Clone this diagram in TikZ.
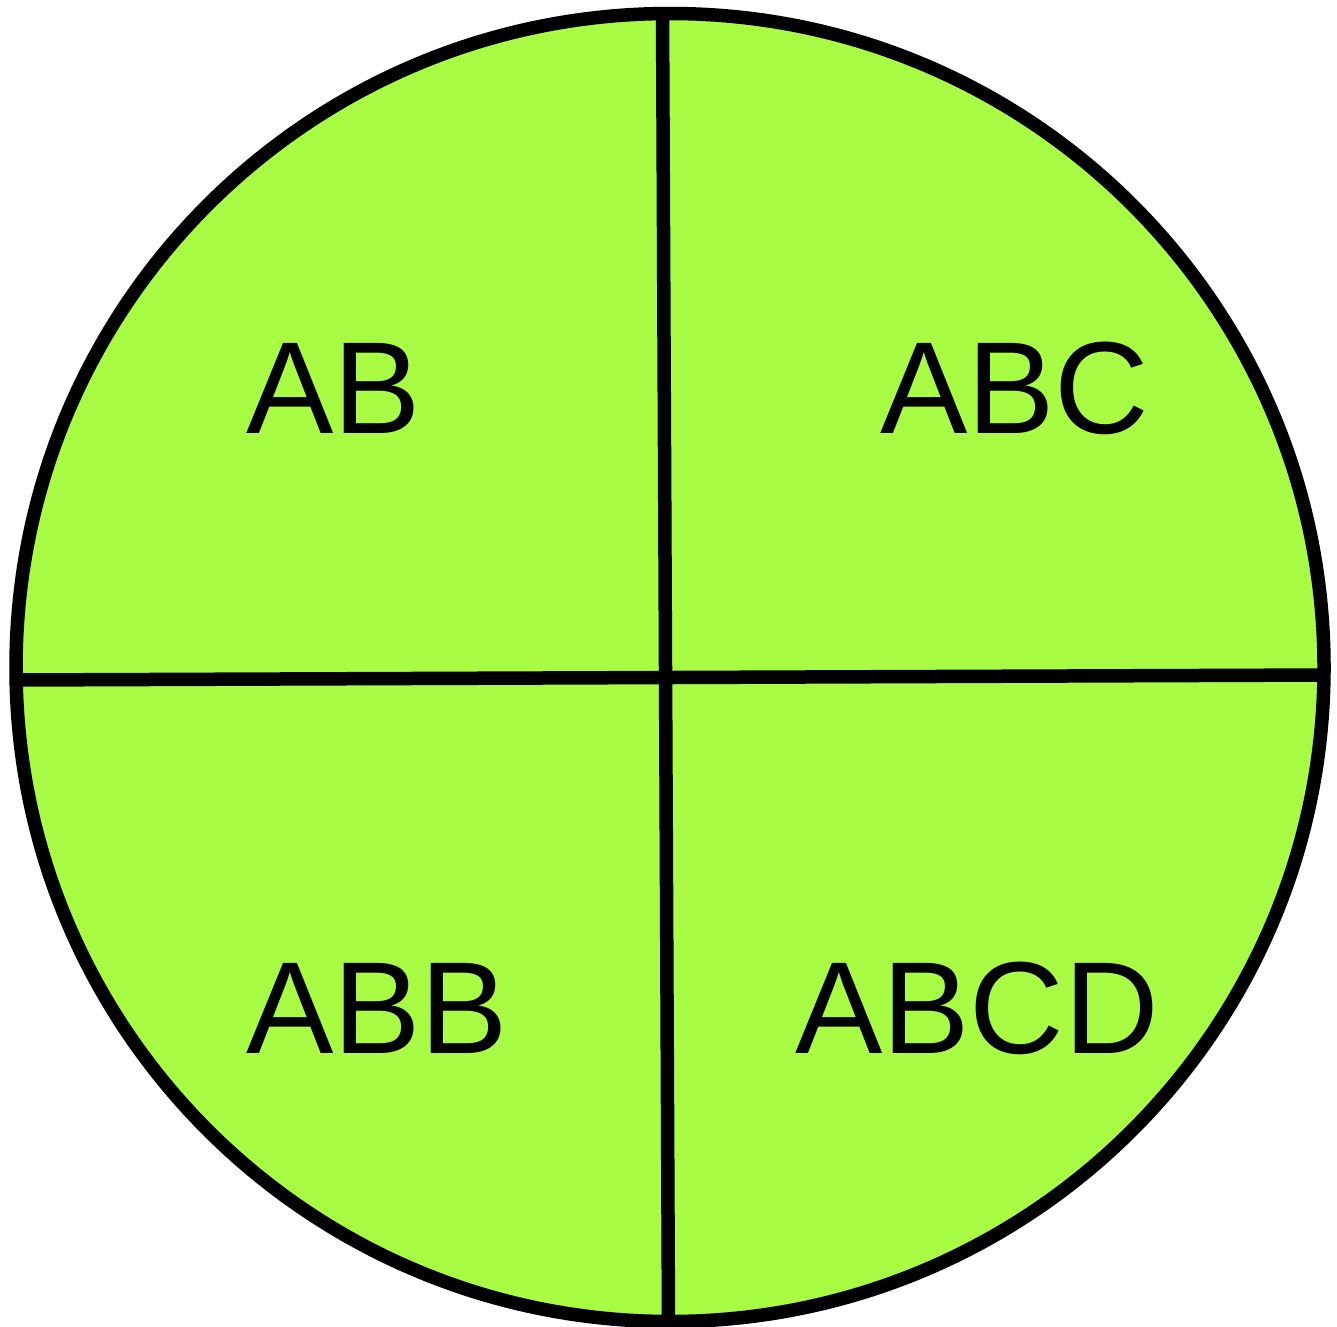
\documentclass[tikz,border=0pt]{standalone}
\usepackage{fontspec}
\setmainfont{Liberation Sans}
\definecolor{pie}{RGB}{168,252,68}
\begin{document}
\begin{tikzpicture}[x=1pt,y=-1pt,
  lbl/.style={anchor=base west,inner sep=0pt,font=\fontsize{131}{131}\selectfont},
  edge/.style={line width=13.5pt,draw=black}]
\useasboundingbox (0,0) rectangle (1337,1326);
\fill[pie] (670,667.5) circle[radius=654];
\coordinate (vt) at (662.5,10);
\coordinate (vb) at (668.5,1326);
\coordinate (hl) at (14,680);
\coordinate (hr) at (1326,675);
\draw[edge] (vt) -- (vb);
\draw[edge] (hl) -- (hr);
\draw[edge] (670,667.5) circle[radius=654];
\node[lbl] (ab) at (246,433) {AB};
\node[lbl] (abc) at (880,433) {ABC};
\node[lbl] (abb) at (246,1053) {ABB};
\node[lbl] (abcd) at (795,1053) {ABCD};
\end{tikzpicture}
\end{document}
